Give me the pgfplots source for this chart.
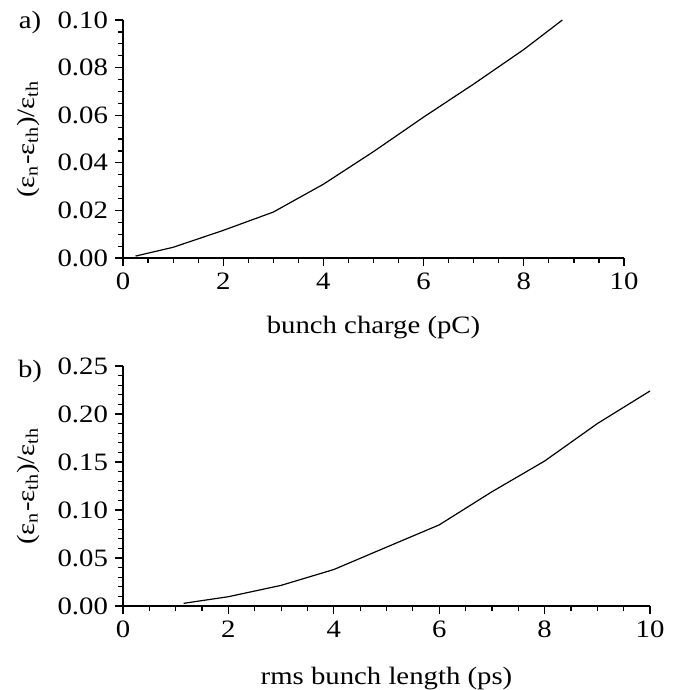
\documentclass[border=0pt]{standalone}
\usepackage{fontspec}
\setmainfont{Liberation Serif}[FakeStretch=1.15]
\usepackage{pgfplots}
\pgfplotsset{compat=1.18}
\newcommand{\lbl}{\fontsize{12.5}{14.5}\selectfont}
\pgfplotsset{
  myax/.style={
    scale only axis,
    axis lines=left,
    axis line style={-, line width=0.65pt},
    xmin=0, xmax=10, ymin=0,
    xtick={0,2,...,10},
    minor x tick num=3,
    tick align=outside,
    major tick length=4pt,
    minor tick length=2.5pt,
    every tick/.style={black, line width=0.6pt},
    tick label style={font=\lbl},
    /pgf/number format/assume math mode=true,
    yticklabel style={/pgf/number format/.cd, fixed, fixed zerofill, precision=2},
    every axis y label/.style={at={([xshift=-47.5pt]axis description cs:0,0.5)}, anchor=center, rotate=90, font=\lbl},
    every axis x label/.style={at={([yshift=-35pt]axis description cs:0.5,0)}, anchor=center, font=\lbl},
    clip=false,
  }
}
\begin{document}
\begin{tikzpicture}
\useasboundingbox (0,0) rectangle (344pt,-345pt);
\begin{axis}[myax,
  at={(61.5pt,-129pt)}, anchor=south west,
  width=250.5pt, height=119pt,
  ymax=0.10, ytick={0,0.02,...,0.1},
  minor y tick num=3,
  xlabel={bunch charge (pC)},
  ylabel={(ε\textsubscript{n}-ε\textsubscript{th})/ε\textsubscript{th}},
]
\addplot[black, line width=0.6pt] coordinates {
(0.25,0.0008) (1,0.0045) (2,0.0116) (3,0.0193) (4,0.031) (5,0.0447)
(6,0.0592) (7,0.0731) (8,0.0876) (8.77,0.1)
};
\node[font=\lbl, anchor=center] at (rel axis cs:0,1) [xshift=-46.5pt, yshift=-1pt] {a)};
\end{axis}
\begin{axis}[myax,
  at={(61.5pt,-303pt)}, anchor=south west,
  width=263.5pt, height=120pt,
  ymax=0.25, ytick={0,0.05,...,0.25},
  minor y tick num=4,
  xlabel={rms bunch length (ps)},
  every axis x label/.style={at={([yshift=-36.5pt]axis description cs:0.5,0)}, anchor=center, font=\lbl},
  ylabel={(ε\textsubscript{n}-ε\textsubscript{th})/ε\textsubscript{th}},
]
\addplot[black, line width=0.6pt] coordinates {
(1.15,0.0028) (2,0.0097) (3,0.0215) (4,0.038) (5,0.0613) (6,0.0845)
(7,0.119) (8,0.151) (9,0.19) (10,0.224)
};
\node[font=\lbl, anchor=center] at (rel axis cs:0,1) [xshift=-46.5pt, yshift=-2.5pt] {b)};
\end{axis}
\end{tikzpicture}
\end{document}
